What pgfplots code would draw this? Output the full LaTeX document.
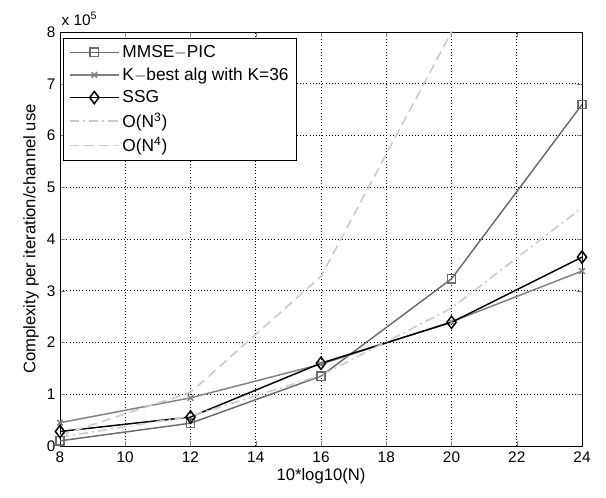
\documentclass[border=0pt]{standalone}
\usepackage{fontspec}
\setmainfont{Liberation Sans}
\usepackage{pgfplots}
\pgfplotsset{compat=1.18}

\definecolor{midgray}{gray}{0.42}
\definecolor{kgray}{gray}{0.5}
\definecolor{lightgray}{gray}{0.8}

\begin{document}
\begin{tikzpicture}
\useasboundingbox (-45pt,-39pt) rectangle (409.5pt,334.5pt);
\begin{axis}[
  at={(0pt,0pt)}, anchor=origin,
  scale only axis,
  width=391.5pt, height=310.5pt,
  xmin=8, xmax=24, ymin=0, ymax=8e5,
  xtick={8,10,...,24},
  ytick={0,1e5,2e5,3e5,4e5,5e5,6e5,7e5,8e5},
  scaled y ticks=base 10:-5,
  ytick scale label code/.code={},
  /pgf/number format/assume math mode=true,
  tick label style={font=\fontsize{11.5}{13}\selectfont},
  label style={font=\fontsize{12.5}{14}\selectfont},
  xticklabel style={yshift=-1pt},
  xlabel={10*log10(N)},
  ylabel={Complexity per iteration/channel use},
  xlabel style={yshift=3pt},
  ylabel style={yshift=-1pt},
  tick align=inside,
  major tick length=4pt,
  grid=major,
  major grid style={black, dotted, line width=0.4pt},
  axis line style={line width=0.6pt},
  legend style={at={(rel axis cs:0.006,0.985)}, anchor=north west,
    font=\fontsize{13}{15}\selectfont, draw=black, line width=0.6pt,
    row sep=2.2pt, inner xsep=4pt, inner ysep=3pt},
  legend cell align=left,
  legend image code/.code={%
    \draw[mark repeat=2,mark phase=2,#1]
      plot coordinates {(0pt,0pt) (18.5pt,0pt) (37pt,0pt)};},
  clip=true,
]
\addplot[midgray, line width=1.1pt, mark=square, mark size=3.1pt, mark options={solid}]
  coordinates {(8,0.10e5) (12,0.44e5) (16,1.35e5) (20,3.23e5) (24,6.60e5)};
\addlegendentry{MMSE$-$PIC}
\addplot[kgray, line width=1.1pt, mark=x, mark size=3pt, mark options={solid}]
  coordinates {(8,0.45e5) (12,0.93e5) (16,1.58e5) (20,2.40e5) (24,3.38e5)};
\addlegendentry{K$-$best alg with K=36}
\addplot[black, line width=1.1pt, mark=diamond, mark size=4.6pt, mark options={solid}]
  coordinates {(8,0.28e5) (12,0.56e5) (16,1.60e5) (20,2.39e5) (24,3.65e5)};
\addlegendentry{SSG}
\addplot[lightgray, line width=1.2pt, dash pattern=on 7pt off 3pt on 1.5pt off 3pt]
  coordinates {(8,0.1705e5) (12,0.5754e5) (16,1.3639e5) (20,2.6640e5) (24,4.6034e5)};
\addlegendentry{O(N$^{\mathrm{3}}$)}
\addplot[lightgray, line width=1.2pt, dash pattern=on 7pt off 4pt]
  coordinates {(8,0.2048e5) (12,1.0368e5) (16,3.2768e5) (20,8.0e5) (24,16.5888e5)};
\addlegendentry{O(N$^{\mathrm{4}}$)}
\end{axis}
\node[anchor=south west, font=\fontsize{11.5}{13}\selectfont, inner sep=0pt]
  at (1pt,315pt) {x 10$^{\mathrm{5}}$};
\end{tikzpicture}
\end{document}
